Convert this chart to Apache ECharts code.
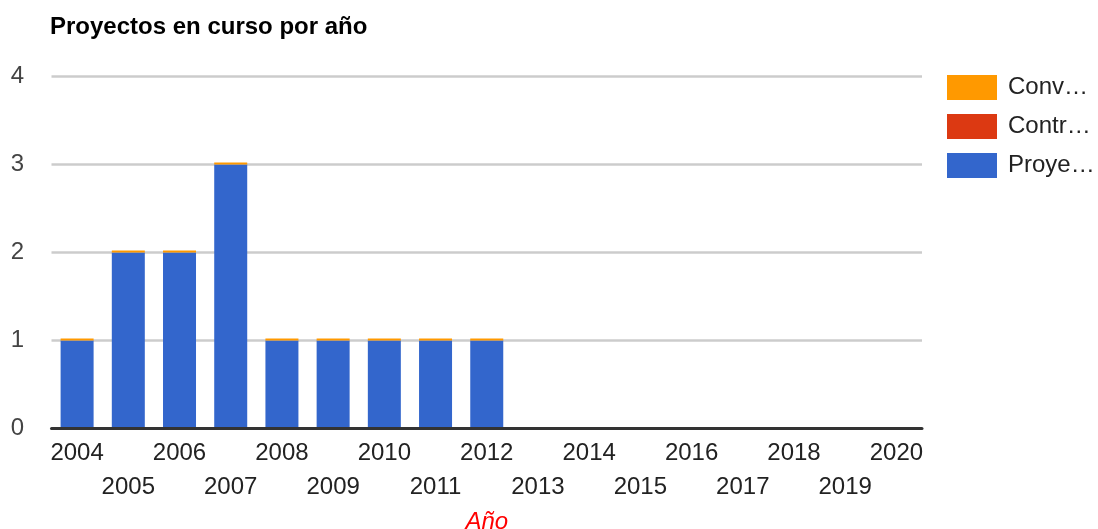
<!DOCTYPE html>
<html>
<head>
<meta charset="utf-8">
<script src="https://cdn.jsdelivr.net/npm/echarts@6/dist/echarts.min.js"></script>
<style>html,body{margin:0;padding:0;background:#fff;}#c{width:1098px;height:529px;}</style>
</head>
<body>
<div id="c"></div>
<script>
var categories = ['2004','2005','2006','2007','2008','2009','2010','2011','2012','2013','2014','2015','2016','2017','2018','2019','2020'];
var proyectos = [1,2,2,3,1,1,1,1,1,0,0,0,0,0,0,0,0];
var contratos = [0,0,0,0,0,0,0,0,0,0,0,0,0,0,0,0,0];
var convenios = [0,0,0,0,0,0,0,0,0,0,0,0,0,0,0,0,0];
var seriesNames = ['Proyectos','Contratos','Convenios'];
var legendLabels = {'Convenios':'Conv…','Contratos':'Contr…','Proyectos':'Proye…'};
var yTicks = [0,1,2,3,4];

// the thin top cap is only drawn where the stack below it is non-empty
var convData = convenios.map(function (v, i) {
  return (proyectos[i] + contratos[i] > 0) ? v : {value: v, itemStyle: {opacity: 0}};
});

var chart = echarts.init(document.getElementById('c'));
chart.setOption({
  animation: false,
  title: {
    text: 'Proyectos en curso por año',
    left: 45, top: 10,
    textStyle: {fontFamily: 'Liberation Sans, Arial', fontSize: 24, fontWeight: 'bold', color: '#000'}
  },
  legend: {
    orient: 'vertical',
    left: 947, top: 75,
    padding: 0,
    itemWidth: 50, itemHeight: 25, itemGap: 14,
    icon: 'rect',
    data: ['Convenios','Contratos','Proyectos'],
    formatter: function (n) { return legendLabels[n]; },
    textStyle: {fontFamily: 'Liberation Sans, Arial', fontSize: 24, color: '#222', padding: [0,0,0,6]}
  },
  grid: {left: 51.5, right: 176, top: 76.5, bottom: 100.5, containLabel: false, outerBoundsMode: 'none'},
  xAxis: {
    type: 'category',
    data: categories,
    z: 5,
    name: 'Año',
    nameLocation: 'middle',
    nameGap: 78,
    nameTextStyle: {fontFamily: 'Liberation Sans, Arial', fontSize: 24, fontStyle: 'italic', color: '#ff0000'},
    axisLine: {lineStyle: {color: '#333', width: 3}},
    axisTick: {show: false},
    axisLabel: {
      interval: 0,
      margin: 7.5,
      fontFamily: 'Liberation Sans, Arial',
      fontSize: 24,
      lineHeight: 34.5,
      color: '#222',
      formatter: function (v, i) { return i % 2 ? '\n' + v : v; }
    }
  },
  yAxis: {
    type: 'value',
    min: 0, max: 4, interval: 1,
    axisLine: {show: false},
    axisTick: {show: false},
    axisLabel: {margin: 27.5, fontFamily: 'Liberation Sans, Arial', fontSize: 24, color: '#444',
      formatter: function (v) { return yTicks.indexOf(v) >= 0 ? String(v) : ''; }},
    splitLine: {lineStyle: {color: '#cccccc', width: 2.5}}
  },
  series: [
    {name: seriesNames[0], type: 'bar', stack: 'a', data: proyectos, barWidth: 33, itemStyle: {color: '#3366cc'}},
    {name: seriesNames[1], type: 'bar', stack: 'a', data: contratos, barWidth: 33, itemStyle: {color: '#dc3912'}},
    {name: seriesNames[2], type: 'bar', stack: 'a', data: convData, barWidth: 33, barMinHeight: 2, itemStyle: {color: '#ff9900'}}
  ]
});
</script>
</body>
</html>
